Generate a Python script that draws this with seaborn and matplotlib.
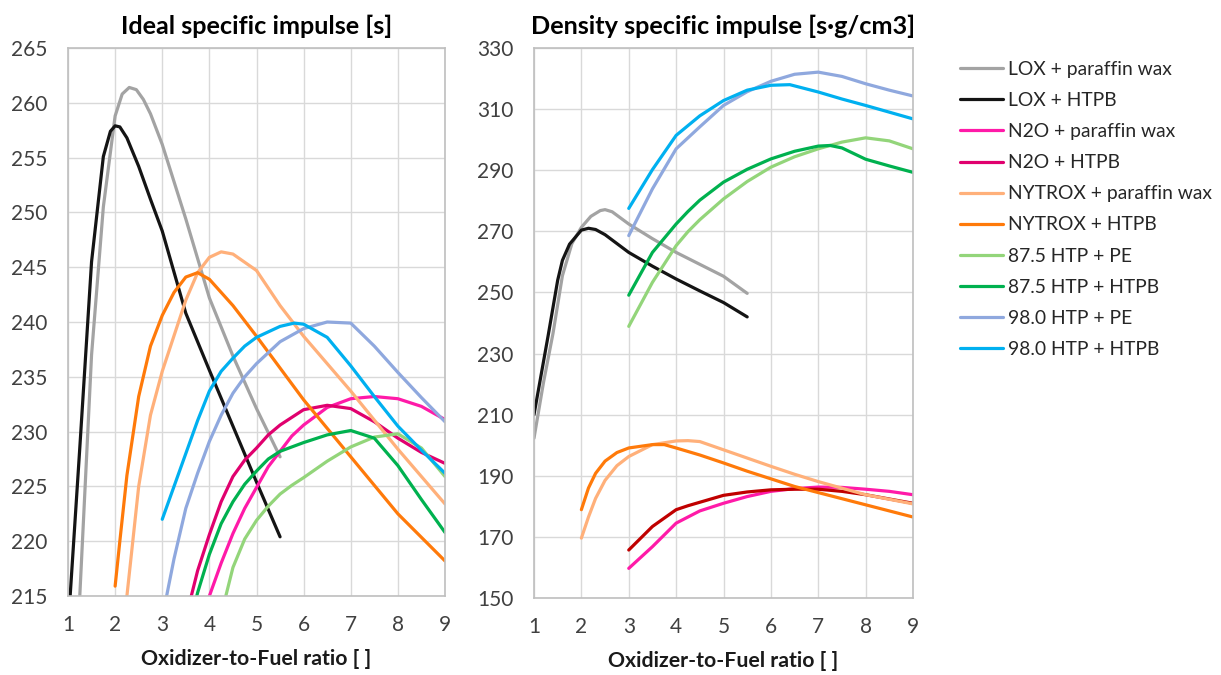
import numpy as np
import pandas as pd
import matplotlib
matplotlib.use("Agg")
import matplotlib.pyplot as plt
import seaborn as sns

series_names = ["LOX + paraffin wax", "LOX + HTPB", "N2O + paraffin wax", "N2O + HTPB",
                "NYTROX + paraffin wax", "NYTROX + HTPB", "87.5 HTP + PE", "87.5 HTP + HTPB",
                "98.0 HTP + PE", "98.0 HTP + HTPB"]

# ---- Ideal specific impulse [s] ----
isp_lox_wax_x = [1.0, 1.25, 1.5, 1.75, 2.0, 2.15, 2.3, 2.45, 2.6, 2.75, 3.0, 3.5, 4.0, 4.5, 5.0, 5.5]
isp_lox_wax_y = [195.0, 215.0, 237.0, 250.5, 258.8, 260.8, 261.4, 261.2, 260.3, 259.0, 256.2, 249.4, 242.2, 236.9, 232.1, 227.7]
isp_lox_htpb_x = [1.0, 1.25, 1.5, 1.75, 1.9, 2.0, 2.1, 2.25, 2.5, 2.75, 3.0, 3.5, 4.0, 4.5, 5.0, 5.5]
isp_lox_htpb_y = [212.0, 228.5, 245.5, 255.1, 257.4, 257.9, 257.8, 256.8, 254.2, 251.2, 248.3, 240.8, 235.6, 230.5, 225.4, 220.4]
isp_n2o_wax_x = [3.0, 3.5, 4.0, 4.25, 4.5, 4.75, 5.0, 5.25, 5.5, 5.75, 6.0, 6.5, 7.0, 7.5, 8.0, 8.5, 9.0]
isp_n2o_wax_y = [200.0, 208.0, 215.0, 218.0, 220.7, 223.0, 224.9, 226.8, 228.2, 229.6, 230.6, 232.2, 233.0, 233.2, 233.0, 232.3, 231.1]
isp_n2o_htpb_x = [3.0, 3.5, 3.75, 4.0, 4.25, 4.5, 4.75, 5.0, 5.25, 5.5, 6.0, 6.5, 7.0, 7.5, 8.0, 8.5, 9.0]
isp_n2o_htpb_y = [202.0, 213.0, 217.3, 220.6, 223.6, 225.9, 227.4, 228.5, 229.7, 230.6, 232.0, 232.4, 232.1, 230.9, 229.4, 228.1, 227.1]
isp_nyt_wax_x = [2.0, 2.25, 2.5, 2.75, 3.0, 3.5, 3.75, 4.0, 4.25, 4.5, 5.0, 5.5, 6.0, 7.0, 8.0, 9.0]
isp_nyt_wax_y = [205.0, 215.0, 225.0, 231.5, 235.5, 242.0, 244.5, 245.9, 246.4, 246.2, 244.7, 241.5, 238.7, 233.7, 228.4, 223.4]
isp_nyt_htpb_x = [2.0, 2.1, 2.25, 2.5, 2.75, 3.0, 3.25, 3.5, 3.75, 4.0, 4.5, 5.0, 5.5, 6.0, 7.0, 8.0, 9.0]
isp_nyt_htpb_y = [215.9, 220.0, 226.0, 233.2, 237.8, 240.6, 242.7, 244.1, 244.5, 243.9, 241.5, 238.7, 235.8, 232.9, 227.7, 222.5, 218.2]
isp_h875_pe_x = [3.0, 3.5, 4.0, 4.5, 4.75, 5.0, 5.25, 5.5, 5.75, 6.0, 6.5, 7.0, 7.5, 8.0, 8.5, 9.0]
isp_h875_pe_y = [193.0, 201.0, 209.0, 217.6, 220.2, 221.9, 223.2, 224.3, 225.1, 225.8, 227.3, 228.6, 229.5, 229.8, 228.5, 225.9]
isp_h875_htpb_x = [3.0, 3.5, 3.75, 4.0, 4.25, 4.5, 4.75, 5.0, 5.25, 5.5, 6.0, 6.5, 7.0, 7.5, 8.0, 8.5, 9.0]
isp_h875_htpb_y = [203.0, 211.0, 215.3, 218.8, 221.6, 223.6, 225.2, 226.4, 227.5, 228.2, 229.0, 229.7, 230.1, 229.4, 226.9, 223.8, 220.8]
isp_h98_pe_x = [3.0, 3.25, 3.5, 3.75, 4.0, 4.25, 4.5, 4.75, 5.0, 5.5, 6.0, 6.5, 7.0, 7.5, 8.0, 8.5, 9.0]
isp_h98_pe_y = [213.0, 218.4, 223.0, 226.2, 229.1, 231.5, 233.5, 235.0, 236.2, 238.2, 239.4, 240.0, 239.9, 237.8, 235.4, 233.1, 230.9]
isp_h98_htpb_x = [3.0, 3.25, 3.5, 3.75, 4.0, 4.25, 4.5, 4.75, 5.0, 5.5, 5.8, 6.0, 6.5, 7.0, 7.5, 8.0, 8.5, 9.0]
isp_h98_htpb_y = [222.0, 225.0, 228.0, 231.0, 233.7, 235.5, 236.7, 237.8, 238.6, 239.6, 239.9, 239.8, 238.6, 236.0, 233.2, 230.5, 228.3, 226.2]

# ---- Density specific impulse [s·g/cm3] ----
dsp_lox_wax_x = [1.0, 1.2, 1.4, 1.6, 1.8, 2.0, 2.2, 2.4, 2.5, 2.65, 3.0, 3.5, 4.0, 4.5, 5.0, 5.5]
dsp_lox_wax_y = [202.3, 220.5, 236.5, 255.5, 266.0, 271.3, 274.9, 276.8, 277.1, 276.4, 272.4, 267.6, 263.1, 259.2, 255.3, 249.7]
dsp_lox_htpb_x = [1.0, 1.3, 1.5, 1.6, 1.75, 2.0, 2.15, 2.3, 2.5, 3.0, 3.5, 4.0, 4.5, 5.0, 5.5]
dsp_lox_htpb_y = [210.0, 236.0, 254.0, 260.5, 265.8, 270.4, 271.0, 270.6, 268.9, 263.1, 258.6, 254.4, 250.5, 246.7, 242.0]
dsp_n2o_wax_x = [3.0, 3.5, 4.0, 4.5, 5.0, 5.5, 6.0, 6.5, 7.0, 7.5, 8.0, 8.5, 9.0]
dsp_n2o_wax_y = [159.7, 166.8, 174.5, 178.5, 181.0, 183.2, 184.9, 185.8, 186.3, 186.2, 185.6, 184.9, 183.8]
dsp_n2o_htpb_x = [3.0, 3.5, 4.0, 4.25, 5.0, 5.5, 6.0, 6.5, 7.0, 7.5, 8.0, 8.5, 9.0]
dsp_n2o_htpb_y = [165.7, 173.4, 178.9, 180.2, 183.6, 184.7, 185.4, 185.6, 185.6, 184.9, 183.8, 182.4, 181.0]
dsp_nyt_wax_x = [2.0, 2.15, 2.3, 2.5, 2.75, 3.0, 3.5, 4.0, 4.25, 4.5, 5.0, 5.5, 6.0, 6.5, 7.0, 8.0, 9.0]
dsp_nyt_wax_y = [169.6, 176.5, 182.6, 188.5, 193.3, 196.3, 200.2, 201.4, 201.5, 201.2, 198.5, 195.8, 193.1, 190.5, 188.1, 183.8, 180.8]
dsp_nyt_htpb_x = [2.0, 2.15, 2.3, 2.5, 2.75, 3.0, 3.5, 3.75, 4.0, 4.5, 5.0, 5.5, 6.0, 6.5, 7.0, 8.0, 9.0]
dsp_nyt_htpb_y = [178.9, 186.0, 190.8, 194.8, 197.6, 199.1, 200.2, 200.2, 199.1, 196.8, 194.2, 191.5, 189.0, 186.5, 184.5, 180.5, 176.5]
dsp_h875_pe_x = [3.0, 3.5, 4.0, 4.25, 4.5, 5.0, 5.5, 6.0, 6.5, 7.0, 7.5, 8.0, 8.5, 9.0]
dsp_h875_pe_y = [238.9, 253.3, 265.3, 269.9, 273.8, 280.6, 286.3, 291.0, 294.4, 297.0, 299.2, 300.6, 299.6, 297.0]
dsp_h875_htpb_x = [3.0, 3.5, 4.0, 4.25, 4.5, 5.0, 5.5, 6.0, 6.5, 7.0, 7.25, 7.5, 8.0, 8.5, 9.0]
dsp_h875_htpb_y = [249.1, 263.1, 272.4, 276.5, 280.2, 286.1, 290.3, 293.7, 296.2, 297.9, 298.1, 297.3, 293.6, 291.4, 289.3]
dsp_h98_pe_x = [3.0, 3.5, 4.0, 4.5, 5.0, 5.5, 6.0, 6.5, 7.0, 7.5, 8.0, 8.5, 9.0]
dsp_h98_pe_y = [268.6, 283.9, 297.0, 304.2, 311.2, 315.7, 319.1, 321.4, 322.1, 320.7, 318.3, 316.2, 314.3]
dsp_h98_htpb_x = [3.0, 3.5, 4.0, 4.5, 5.0, 5.5, 6.0, 6.4, 7.0, 7.5, 8.0, 8.5, 9.0]
dsp_h98_htpb_y = [277.5, 290.2, 301.4, 307.8, 312.8, 316.2, 317.8, 318.0, 315.6, 313.3, 311.2, 309.0, 306.8]

y_ticks_isp = [215, 220, 225, 230, 235, 240, 245, 250, 255, 260, 265]
y_ticks_dsp = [150, 170, 190, 210, 230, 250, 270, 290, 310, 330]
x_ticks = [1, 2, 3, 4, 5, 6, 7, 8, 9]

isp_sets = [(isp_lox_wax_x, isp_lox_wax_y), (isp_lox_htpb_x, isp_lox_htpb_y),
            (isp_n2o_wax_x, isp_n2o_wax_y), (isp_n2o_htpb_x, isp_n2o_htpb_y),
            (isp_nyt_wax_x, isp_nyt_wax_y), (isp_nyt_htpb_x, isp_nyt_htpb_y),
            (isp_h875_pe_x, isp_h875_pe_y), (isp_h875_htpb_x, isp_h875_htpb_y),
            (isp_h98_pe_x, isp_h98_pe_y), (isp_h98_htpb_x, isp_h98_htpb_y)]
dsp_sets = [(dsp_lox_wax_x, dsp_lox_wax_y), (dsp_lox_htpb_x, dsp_lox_htpb_y),
            (dsp_n2o_wax_x, dsp_n2o_wax_y), (dsp_n2o_htpb_x, dsp_n2o_htpb_y),
            (dsp_nyt_wax_x, dsp_nyt_wax_y), (dsp_nyt_htpb_x, dsp_nyt_htpb_y),
            (dsp_h875_pe_x, dsp_h875_pe_y), (dsp_h875_htpb_x, dsp_h875_htpb_y),
            (dsp_h98_pe_x, dsp_h98_pe_y), (dsp_h98_htpb_x, dsp_h98_htpb_y)]


def to_long(sets):
    frames = []
    for name, (xs, ys) in zip(series_names, sets):
        frames.append(pd.DataFrame({"OF": xs, "val": ys, "series": name}))
    return pd.concat(frames, ignore_index=True)


df_isp = to_long(isp_sets)
df_dsp = to_long(dsp_sets)

colors = ["#A3A3A3", "#141414", "#FF1AA8", "#E0006E", "#FFB07A", "#FF7A0A",
          "#93D57A", "#00B14F", "#8FA8DE", "#00B0F0"]
pal_left = dict(zip(series_names, colors))
pal_right = dict(pal_left)
pal_right["N2O + HTPB"] = "#C00000"

sns.set_theme(style="white")
plt.rcParams["font.family"] = ["Lato", "DejaVu Sans"]

fig = plt.figure(figsize=(12.21, 6.75), dpi=100)
ax1 = fig.add_axes([68 / 1221, 1 - 596 / 675, 377 / 1221, 548 / 675])
ax2 = fig.add_axes([534 / 1221, 1 - 598 / 675, 379 / 1221, 550 / 675])

sns.lineplot(data=df_isp, x="OF", y="val", hue="series", hue_order=series_names,
             palette=pal_left, estimator=None, sort=False, lw=2.3, ax=ax1, legend=False)
sns.lineplot(data=df_dsp, x="OF", y="val", hue="series", hue_order=series_names,
             palette=pal_right, estimator=None, sort=False, lw=2.3, ax=ax2, legend=False)

for ax, yt, title in [(ax1, y_ticks_isp, "Ideal specific impulse [s]"),
                      (ax2, y_ticks_dsp, "Density specific impulse [s\u00b7g/cm3]")]:
    ax.set_xlim(1, 9)
    ax.set_ylim(yt[0], yt[-1])
    ax.set_xticks(x_ticks)
    ax.set_yticks(yt)
    ax.grid(True, color="#D9D9D9", lw=1.0)
    ax.set_axisbelow(True)
    for s in ax.spines.values():
        s.set_color("#BFBFBF")
        s.set_linewidth(1.2)
    ax.tick_params(axis="both", length=0, labelsize=15, colors="#404040")
    ax.tick_params(axis="y", pad=15)
    ax.tick_params(axis="x", pad=14)
    ax.set_title(title, fontsize=18.2, fontweight="bold", pad=10, color="black")
    ax.set_xlabel("Oxidizer-to-Fuel ratio [ ]", fontsize=15.3, fontweight="bold", labelpad=10, color="#1a1a1a")
    ax.set_ylabel("")

handles = ax1.get_lines()[:len(series_names)]
fig.legend(handles, series_names, loc="upper left", bbox_to_anchor=(960 / 1221, 1 - 61 / 675),
           frameon=False, fontsize=13.9, handlelength=2.23, handletextpad=0.26,
           labelspacing=0.73, borderpad=0, borderaxespad=0, labelcolor="#262626")

fig.savefig("out.png", dpi=100)
